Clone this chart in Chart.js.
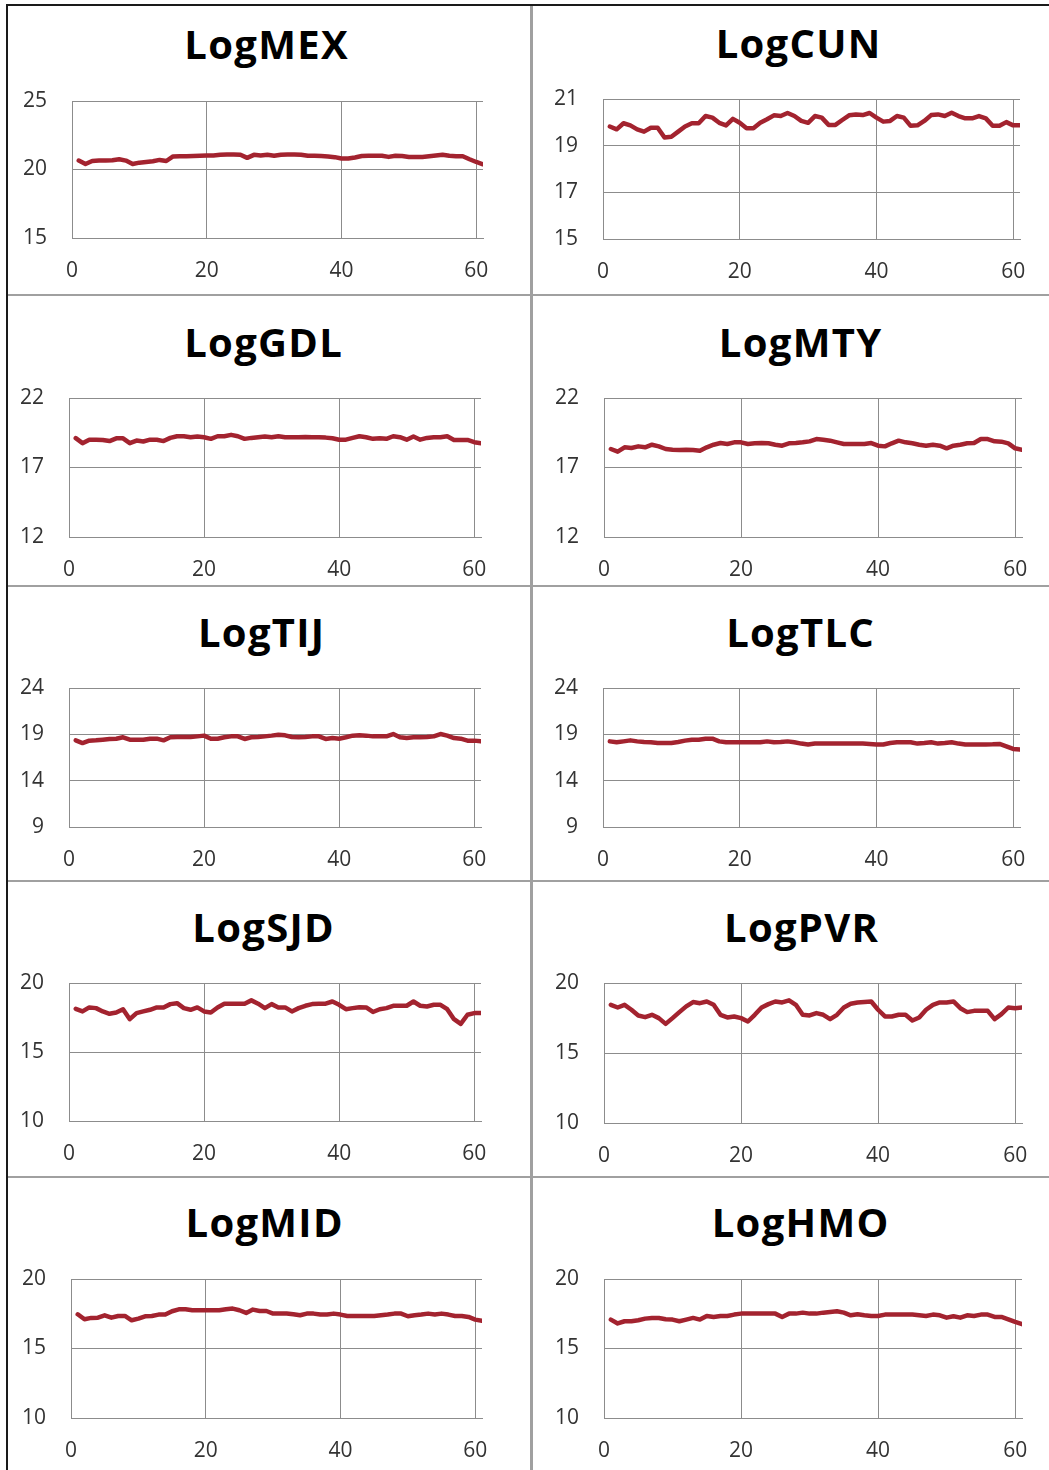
<!DOCTYPE html>
<html>
<head>
<meta charset="utf-8">
<script src="https://cdn.jsdelivr.net/npm/chart.js@4/dist/chart.umd.min.js"></script>
<style>
  html, body { margin: 0; padding: 0; background: #fff; }
  #page { position: relative; width: 1049px; height: 1470px; overflow: hidden; background: #fff; }
  .rule { position: absolute; }
  .title {
    position: absolute; width: 300px; text-align: center;
    font-family: "Open Sans", sans-serif; font-weight: 700; font-size: 40px;
    line-height: 40px; color: #000; white-space: nowrap;
    letter-spacing: 1.3px; text-indent: 1.3px;
  }
  canvas { position: absolute; }
</style>
</head>
<body>
<div id="page"></div>
<script>
// ------------------------------------------------------
// DATA (periods 1..61)
// ------------------------------------------------------
const periods = [1,2,3,4,5,6,7,8,9,10,11,12,13,14,15,16,17,18,19,20,
  21,22,23,24,25,26,27,28,29,30,31,32,33,34,35,36,37,38,39,40,
  41,42,43,44,45,46,47,48,49,50,51,52,53,54,55,56,57,58,59,60,61];
const xTicks = [0, 20, 40, 60];

const logMEX = [20.65,20.4,20.62,20.65,20.65,20.67,20.75,20.65,20.4,20.5,
  20.55,20.6,20.7,20.62,20.95,20.97,20.97,20.98,21.0,21.02,
  21.03,21.08,21.1,21.1,21.08,20.85,21.07,21.02,21.07,21.0,
  21.08,21.1,21.1,21.08,21.0,21.0,20.98,20.95,20.9,20.8,
  20.8,20.88,20.98,21.0,21.0,21.0,20.92,21.0,20.98,20.92,
  20.92,20.92,20.97,21.02,21.08,21.0,20.97,20.97,20.75,20.55,20.38];
const logCUN = [19.82,19.7,19.96,19.87,19.7,19.6,19.77,19.77,19.35,19.38,
  19.6,19.82,19.96,19.96,20.27,20.2,19.98,19.87,20.15,19.98,
  19.75,19.75,19.98,20.13,20.3,20.27,20.4,20.27,20.06,19.98,
  20.27,20.2,19.89,19.89,20.1,20.3,20.34,20.31,20.4,20.2,
  20.03,20.06,20.27,20.2,19.85,19.87,20.06,20.31,20.34,20.27,
  20.41,20.27,20.17,20.17,20.27,20.17,19.85,19.85,20.01,19.87,19.87];
const logGDL = [19.11,18.75,19.0,19.0,18.98,18.9,19.1,19.1,18.75,18.94,
  18.87,19.0,19.0,18.9,19.13,19.25,19.25,19.18,19.23,19.18,
  19.06,19.25,19.25,19.35,19.25,19.06,19.13,19.18,19.23,19.18,
  19.25,19.18,19.18,19.18,19.2,19.18,19.18,19.15,19.1,19.0,
  19.0,19.13,19.25,19.18,19.06,19.1,19.06,19.25,19.18,19.0,
  19.23,19.0,19.13,19.18,19.18,19.25,18.98,18.98,18.98,18.82,18.75];
const logMTY = [18.33,18.14,18.45,18.4,18.52,18.45,18.64,18.52,18.33,18.28,
  18.26,18.28,18.26,18.2,18.45,18.64,18.76,18.69,18.81,18.81,
  18.69,18.74,18.76,18.74,18.64,18.57,18.74,18.76,18.81,18.88,
  19.05,19.0,18.93,18.81,18.69,18.69,18.69,18.69,18.76,18.57,
  18.52,18.74,18.93,18.81,18.74,18.64,18.57,18.64,18.57,18.38,
  18.57,18.64,18.74,18.76,19.05,19.05,18.88,18.86,18.74,18.38,18.28];
const logTIJ = [18.35,18.06,18.32,18.35,18.42,18.5,18.53,18.68,18.42,18.42,
  18.42,18.53,18.53,18.35,18.68,18.71,18.71,18.71,18.78,18.86,
  18.53,18.53,18.68,18.78,18.78,18.5,18.68,18.71,18.78,18.86,
  18.96,18.89,18.71,18.68,18.71,18.78,18.78,18.5,18.6,18.53,
  18.68,18.86,18.89,18.86,18.78,18.78,18.78,19.03,18.68,18.6,
  18.68,18.68,18.71,18.78,19.03,18.86,18.6,18.53,18.32,18.32,18.24];
const logTLC = [18.24,18.14,18.24,18.35,18.24,18.17,18.14,18.06,18.06,18.06,
  18.17,18.32,18.42,18.42,18.53,18.53,18.24,18.14,18.14,18.14,
  18.14,18.14,18.14,18.24,18.14,18.17,18.24,18.14,18.0,17.9,
  18.0,18.0,18.0,18.0,18.0,18.0,18.0,18.0,17.96,17.9,
  17.9,18.06,18.14,18.14,18.14,18.0,18.06,18.14,18.0,18.06,
  18.14,18.0,17.9,17.9,17.9,17.9,17.92,17.96,17.7,17.42,17.35];
const logSJD = [18.13,17.94,18.23,18.18,17.94,17.77,17.86,18.1,17.38,17.82,
  17.94,18.06,18.23,18.23,18.47,18.54,18.18,18.06,18.23,17.94,
  17.86,18.23,18.5,18.5,18.5,18.5,18.74,18.5,18.18,18.47,
  18.23,18.23,17.94,18.18,18.35,18.47,18.5,18.5,18.66,18.42,
  18.1,18.18,18.25,18.23,17.9,18.1,18.18,18.35,18.35,18.35,
  18.66,18.35,18.3,18.42,18.42,18.1,17.38,17.04,17.7,17.82,17.82];
const logPVR = [18.44,18.25,18.44,18.09,17.68,17.56,17.73,17.49,17.08,17.49,
  17.92,18.33,18.64,18.56,18.68,18.44,17.73,17.54,17.61,17.49,
  17.25,17.73,18.25,18.49,18.68,18.61,18.76,18.44,17.73,17.68,
  17.85,17.73,17.42,17.73,18.25,18.52,18.61,18.64,18.68,18.09,
  17.61,17.61,17.73,17.73,17.32,17.54,18.09,18.44,18.61,18.61,
  18.68,18.2,17.92,18.01,18.01,18.01,17.42,17.78,18.25,18.2,18.25];
const logMID = [17.46,17.1,17.2,17.22,17.39,17.22,17.34,17.34,17.03,17.15,
  17.32,17.34,17.44,17.44,17.68,17.82,17.82,17.75,17.75,17.75,
  17.75,17.75,17.82,17.87,17.75,17.56,17.8,17.7,17.7,17.51,
  17.51,17.51,17.46,17.39,17.51,17.51,17.44,17.44,17.51,17.44,
  17.34,17.34,17.34,17.34,17.34,17.39,17.44,17.51,17.51,17.32,
  17.39,17.44,17.51,17.44,17.51,17.44,17.34,17.34,17.27,17.08,16.99];
const logHMO = [17.08,16.8,16.96,16.96,17.03,17.15,17.2,17.2,17.1,17.08,
  16.96,17.08,17.2,17.08,17.34,17.27,17.34,17.34,17.44,17.51,
  17.51,17.51,17.51,17.51,17.51,17.27,17.51,17.51,17.58,17.51,
  17.51,17.58,17.63,17.68,17.58,17.39,17.46,17.39,17.34,17.34,
  17.44,17.44,17.44,17.44,17.44,17.39,17.34,17.44,17.39,17.22,
  17.32,17.22,17.39,17.34,17.44,17.44,17.27,17.27,17.1,16.91,16.75];

const ticksMEX = [15, 20, 25];
const ticksCUN = [15, 17, 19, 21];
const ticksGDL = [12, 17, 22];
const ticksTIJ = [9, 14, 19, 24];
const ticksLow = [10, 15, 20];

// ------------------------------------------------------
// LAYOUT (plot rectangles and title positions in the page)
// ------------------------------------------------------
const panels = [
  { title: "LogMEX", data: logMEX, ticks: ticksMEX, plot: [72, 101, 483, 238], tx: 266, ty: 59 },
  { title: "LogCUN", data: logCUN, ticks: ticksCUN, plot: [603, 99, 1020, 239], tx: 798, ty: 58 },
  { title: "LogGDL", data: logGDL, ticks: ticksGDL, plot: [69, 398, 481, 537], tx: 263, ty: 357 },
  { title: "LogMTY", data: logMTY, ticks: ticksGDL, plot: [604, 398, 1022, 537], tx: 800, ty: 357 },
  { title: "LogTIJ", data: logTIJ, ticks: ticksTIJ, plot: [69, 688, 481, 827], tx: 261, ty: 647 },
  { title: "LogTLC", data: logTLC, ticks: ticksTIJ, plot: [603, 688, 1020, 827], tx: 800, ty: 647 },
  { title: "LogSJD", data: logSJD, ticks: ticksLow, plot: [69, 983, 481, 1121], tx: 263, ty: 942 },
  { title: "LogPVR", data: logPVR, ticks: ticksLow, plot: [604, 983, 1022, 1123], tx: 801, ty: 942 },
  { title: "LogMID", data: logMID, ticks: ticksLow, plot: [71, 1279, 482, 1418], tx: 264, ty: 1237 },
  { title: "LogHMO", data: logHMO, ticks: ticksLow, plot: [604, 1279, 1022, 1418], tx: 800, ty: 1237 }
];

const LINE_COLOR = "#A3232F";
const GRID_COLOR = "#8C8C8C";
const LABEL_COLOR = "#333333";
const PAD_L = 70, PAD_T = 20, PAD_R = 10, PAD_B = 50;

const page = document.getElementById("page");

// ------------------------------------------------------
// PANEL FRAMES
// ------------------------------------------------------
function rule(left, top, width, height, color) {
  const d = document.createElement("div");
  d.className = "rule";
  d.style.left = left + "px";
  d.style.top = top + "px";
  d.style.width = width + "px";
  d.style.height = height + "px";
  d.style.background = color;
  page.appendChild(d);
}

rule(6, 4, 1043, 2, "#1a1a1a");
rule(6, 4, 2, 1466, "#1a1a1a");
rule(530, 6, 3, 1464, "#a0a0a0");
[294, 585, 880, 1176].forEach(function (y) {
  rule(8, y, 1041, 2, "#a0a0a0");
});

// ------------------------------------------------------
// CHARTS
// ------------------------------------------------------
Chart.defaults.font.family = "'Open Sans', sans-serif";
Chart.defaults.color = LABEL_COLOR;

// keep the plot box fixed: no extra room for the edge labels
function clearPadding(scale) {
  scale.paddingLeft = 0;
  scale.paddingRight = 0;
  scale.paddingTop = 0;
  scale.paddingBottom = 0;
}

function makePanel(p) {
  const left = p.plot[0], top = p.plot[1], right = p.plot[2], bottom = p.plot[3];

  const t = document.createElement("div");
  t.className = "title";
  t.textContent = p.title;
  t.style.left = (p.tx - 150) + "px";
  t.style.top = (p.ty - 35) + "px";
  page.appendChild(t);

  const canvas = document.createElement("canvas");
  const w = right - left + PAD_L + PAD_R;
  const h = bottom - top + PAD_T + PAD_B;
  canvas.width = w;
  canvas.height = h;
  canvas.style.width = w + "px";
  canvas.style.height = h + "px";
  canvas.style.left = (left - PAD_L) + "px";
  canvas.style.top = (top - PAD_T) + "px";
  page.appendChild(canvas);

  const points = [];
  for (let i = 0; i < periods.length; i++) {
    points.push({ x: periods[i], y: p.data[i] });
  }

  const yTicks = p.ticks;

  new Chart(canvas.getContext("2d"), {
    type: "line",
    data: {
      datasets: [{
        data: points,
        borderColor: LINE_COLOR,
        borderWidth: 4.5,
        pointRadius: 0,
        tension: 0,
        borderJoinStyle: "round",
        borderCapStyle: "round"
      }]
    },
    options: {
      responsive: false,
      devicePixelRatio: 1,
      animation: false,
      layout: { autoPadding: false, padding: { left: 0, top: PAD_T, right: PAD_R, bottom: 0 } },
      plugins: { legend: { display: false }, tooltip: { enabled: false } },
      scales: {
        x: {
          type: "linear",
          min: 0,
          max: 61,
          afterBuildTicks: function (scale) {
            scale.ticks = xTicks.map(function (v) { return { value: v }; });
          },
          afterFit: function (scale) {
            scale.height = PAD_B;
            clearPadding(scale);
          },
          grid: { color: GRID_COLOR, lineWidth: 1, drawTicks: false },
          border: { display: true, color: GRID_COLOR, width: 1 },
          ticks: { padding: 20, maxRotation: 0, autoSkip: false, font: { size: 21 }, color: LABEL_COLOR }
        },
        y: {
          type: "linear",
          min: yTicks[0],
          max: yTicks[yTicks.length - 1],
          afterBuildTicks: function (scale) {
            scale.ticks = yTicks.map(function (v) { return { value: v }; });
          },
          afterFit: function (scale) {
            scale.width = PAD_L;
            clearPadding(scale);
          },
          grid: { color: GRID_COLOR, lineWidth: 1, drawTicks: false },
          border: { display: true, color: GRID_COLOR, width: 1 },
          ticks: { padding: 25, autoSkip: false, font: { size: 21 }, color: LABEL_COLOR }
        }
      }
    }
  });
}

panels.forEach(makePanel);
</script>
</body>
</html>
